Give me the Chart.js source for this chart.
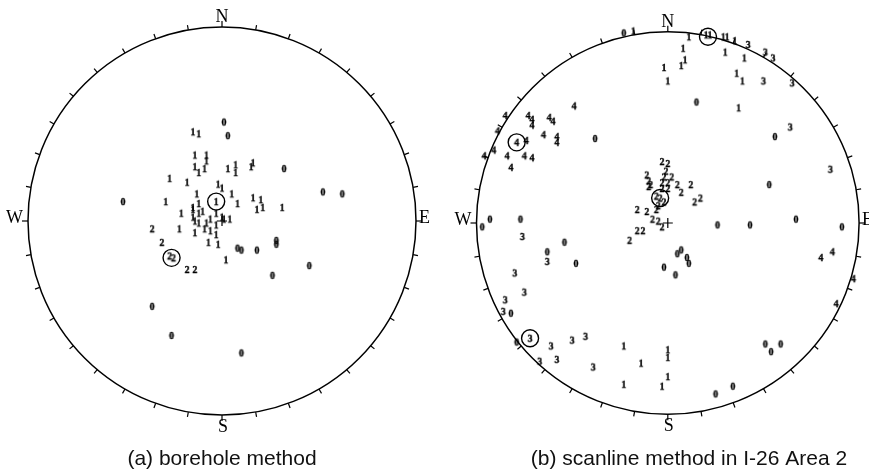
<!DOCTYPE html>
<html>
<head>
<meta charset="utf-8">
<script src="https://cdn.jsdelivr.net/npm/chart.js@4/dist/chart.umd.min.js"></script>
<style>
  html, body { margin: 0; padding: 0; background: #fff; }
  #wrap { position: relative; width: 869px; height: 470px; overflow: hidden; }
  #boreCanvas { position: absolute; left: 0; top: 0; }
  #scanCanvas { position: absolute; left: 435px; top: 0; }
</style>
</head>
<body>
<div id="wrap">
  <canvas id="boreCanvas" width="435" height="470"></canvas>
  <canvas id="scanCanvas" width="434" height="470"></canvas>
</div>
<script>
// pole positions on the net, unit radius, [east, north]
// (a) borehole method
var boreZero = [[0.01,0.51],[0.03,0.44],[0.32,0.27],[0.52,0.15],[0.62,0.14],[-0.51,0.10],
  [0.08,-0.14],[0.10,-0.15],[0.18,-0.15],[0.28,-0.10],[0.28,-0.12],[0.45,-0.23],
  [0.26,-0.28],[-0.36,-0.44],[-0.26,-0.59],[0.10,-0.68]];
var boreOne = [[-0.15,0.46],[-0.12,0.45],[-0.14,0.34],[-0.08,0.34],[-0.08,0.31],[-0.14,0.28],
  [-0.12,0.25],[-0.09,0.27],[0.03,0.27],[0.07,0.29],[0.07,0.25],[0.15,0.28],[0.16,0.30],
  [-0.27,0.22],[-0.18,0.20],[-0.02,0.19],[0.00,0.17],[-0.29,0.10],[-0.13,0.14],[-0.12,0.09],
  [-0.03,0.10],[0.05,0.14],[0.08,0.09],[0.16,0.12],[0.20,0.11],[0.18,0.06],[0.21,0.07],
  [0.31,0.07],[-0.15,0.07],[-0.15,0.06],[-0.10,0.05],[-0.21,0.04],[-0.15,0.02],[-0.12,0.04],
  [-0.03,0.04],[0.00,0.02],[-0.14,0.00],[-0.12,-0.01],[-0.08,-0.01],[-0.06,0.01],[-0.03,-0.02],
  [0.01,0.01],[0.04,0.01],[-0.22,-0.04],[-0.14,-0.06],[-0.09,-0.04],[-0.06,-0.05],[-0.03,-0.07],
  [-0.07,-0.11],[-0.02,-0.12],[0.02,-0.20]];
var boreTwo = [[-0.36,-0.04],[-0.31,-0.11],[-0.27,-0.18],[-0.25,-0.19],[-0.18,-0.25],[-0.14,-0.25]];
var boreMean = [[-0.03,0.10],[-0.26,-0.19]];

// (b) scanline method in I-26 Area 2
var scanZero = [[-0.23,0.99],[0.15,0.63],[-0.38,0.44],[0.56,0.45],[0.53,0.20],[0.26,-0.01],
  [0.43,-0.01],[0.67,0.02],[0.91,-0.02],[-0.93,0.02],[-0.97,-0.02],[-0.77,0.02],[-0.54,-0.10],
  [-0.63,-0.15],[-0.48,-0.21],[0.05,-0.16],[0.07,-0.14],[0.10,-0.18],[0.11,-0.21],[-0.02,-0.23],
  [0.04,-0.27],[-0.82,-0.47],[-0.79,-0.62],[0.51,-0.63],[0.54,-0.67],[0.59,-0.63],[0.34,-0.85],
  [0.25,-0.89]];
var scanOne = [[-0.18,1.00],[0.11,0.97],[0.20,0.98],[0.22,0.98],[0.29,0.97],[0.31,0.97],
  [0.35,0.95],[0.08,0.91],[0.09,0.85],[0.07,0.82],[-0.02,0.81],[0.00,0.74],[0.30,0.89],
  [0.40,0.86],[0.36,0.78],[0.39,0.74],[0.37,0.60],[-0.23,-0.64],[0.00,-0.66],[0.00,-0.70],
  [-0.14,-0.73],[0.00,-0.80],[-0.23,-0.84],[-0.03,-0.85]];
var scanTwo = [[-0.03,0.32],[0.00,0.31],[-0.01,0.27],[-0.11,0.25],[-0.10,0.22],[-0.09,0.20],
  [-0.10,0.19],[-0.02,0.24],[0.02,0.24],[-0.03,0.21],[0.00,0.21],[0.05,0.20],[0.12,0.20],
  [0.07,0.16],[0.00,0.18],[-0.03,0.18],[0.14,0.11],[0.17,0.13],[-0.06,0.14],[-0.04,0.13],
  [-0.02,0.11],[-0.05,0.09],[-0.16,0.07],[-0.11,0.06],[-0.06,0.07],[-0.08,0.02],[-0.05,0.01],
  [-0.03,-0.02],[-0.16,-0.04],[-0.13,-0.04],[-0.20,-0.09]];
var scanThree = [[0.42,0.93],[0.51,0.89],[0.55,0.86],[0.50,0.74],[0.65,0.73],[0.64,0.50],
  [0.85,0.28],[-0.76,-0.07],[-0.63,-0.20],[-0.80,-0.26],[-0.75,-0.36],[-0.85,-0.40],
  [-0.86,-0.46],[-0.72,-0.60],[-0.61,-0.64],[-0.50,-0.61],[-0.43,-0.59],[-0.67,-0.72],
  [-0.58,-0.71],[-0.39,-0.75]];
var scanFour = [[-0.49,0.61],[-0.73,0.56],[-0.71,0.54],[-0.71,0.51],[-0.62,0.55],[-0.60,0.53],
  [-0.85,0.56],[-0.89,0.48],[-0.65,0.46],[-0.58,0.45],[-0.58,0.42],[-0.79,0.42],[-0.74,0.43],
  [-0.96,0.35],[-0.91,0.38],[-0.84,0.35],[-0.75,0.35],[-0.71,0.34],[-0.82,0.29],
  [0.80,-0.18],[0.86,-0.15],[0.97,-0.29],[0.88,-0.42]];
var scanMean = [[0.21,0.97],[-0.04,0.13],[-0.79,0.42],[-0.72,-0.60]];

var netCentre = [[0, 0]];
var compass = ['N', 'E', 'S', 'W'];

function toXY(arr) {
    return arr.map(function (p) { return { x: p[0], y: p[1] }; });
}

// little canvas with the set number, used as point style
function digitMark(d) {
    var c = document.createElement('canvas');
    c.width = 8;
    c.height = 11;
    var g = c.getContext('2d');
    g.fillStyle = '#000';
    g.strokeStyle = '#000';
    g.lineWidth = 0.35;
    g.font = 'bold 10px "Liberation Serif"';
    g.textAlign = 'center';
    g.textBaseline = 'middle';
    g.fillText(String(d), 4, 6);
    g.strokeText(String(d), 4, 6);
    return c;
}

function digitSet(arr, d) {
    return {
        data: toXY(arr),
        pointStyle: digitMark(d),
        pointRadius: 4,
        clip: false
    };
}

function meanSet(arr) {
    return {
        data: toXY(arr),
        pointStyle: 'circle',
        pointRadius: 8.5,
        borderWidth: 1.4,
        borderColor: '#000',
        backgroundColor: 'rgba(0,0,0,0)',
        clip: false
    };
}

var netPlugin = {
    id: 'net',
    beforeDatasetsDraw: function (chart, args, opts) {
        var ctx = chart.ctx;
        var xs = chart.scales.x, ys = chart.scales.y;
        var cx = xs.getPixelForValue(0), cy = ys.getPixelForValue(0);
        var r = xs.getPixelForValue(1) - cx;
        ctx.save();
        ctx.strokeStyle = '#000';
        ctx.lineWidth = 1.5;
        ctx.beginPath();
        ctx.arc(cx, cy, r, 0, Math.PI * 2);
        ctx.stroke();
        ctx.lineWidth = 1.2;
        for (var a = 0; a < 360; a += 10) {
            var t = a * Math.PI / 180;
            var len = (a % 90 === 0) ? 6 : 5;
            ctx.beginPath();
            ctx.moveTo(cx + r * Math.sin(t), cy - r * Math.cos(t));
            ctx.lineTo(cx + (r + len) * Math.sin(t), cy - (r + len) * Math.cos(t));
            ctx.stroke();
        }
        ctx.fillStyle = '#000';
        ctx.font = '18px "Liberation Serif"';
        ctx.textAlign = 'center';
        ctx.textBaseline = 'alphabetic';
        ctx.fillText(compass[0], cx, cy - r - 5);
        ctx.fillText(compass[2], cx + 1, cy + r + 17);
        ctx.textAlign = 'right';
        ctx.fillText(compass[3], cx - r - 5, cy + 2);
        ctx.textAlign = 'left';
        ctx.fillText(compass[1], cx + r + 3, cy + 2);

        ctx.textAlign = 'center';
        ctx.fillStyle = '#111';
        ctx.font = '21px "Liberation Sans"';
        ctx.fillText(opts.caption, opts.captionX, 465);
        ctx.restore();
    }
};

function makeNet(id, sets, pad, caption, captionX) {
    return new Chart(document.getElementById(id), {
        type: 'scatter',
        data: { datasets: sets },
        options: {
            responsive: false,
            animation: false,
            layout: { padding: pad },
            scales: {
                x: { type: 'linear', min: -1, max: 1, display: false },
                y: { type: 'linear', min: -1, max: 1, display: false }
            },
            plugins: {
                legend: { display: false },
                tooltip: { enabled: false },
                net: { caption: caption, captionX: captionX }
            }
        },
        plugins: [netPlugin]
    });
}

makeNet('boreCanvas', [
    digitSet(boreZero, 0),
    digitSet(boreOne, 1),
    digitSet(boreTwo, 2),
    meanSet(boreMean),
    { data: toXY(netCentre), pointStyle: 'cross', pointRadius: 5, borderWidth: 1.2, borderColor: '#000' }
], { left: 28, right: 19, top: 27, bottom: 55 }, '(a) borehole method', 222);

makeNet('scanCanvas', [
    digitSet(scanZero, 0),
    digitSet(scanOne, 1),
    digitSet(scanTwo, 2),
    digitSet(scanThree, 3),
    digitSet(scanFour, 4),
    meanSet(scanMean),
    { data: toXY(netCentre), pointStyle: 'cross', pointRadius: 5, borderWidth: 1.2, borderColor: '#000' }
], { left: 41.5, right: 8.5, top: 31, bottom: 55 }, '(b) scanline method in I-26 Area 2', 254);
</script>
</body>
</html>
